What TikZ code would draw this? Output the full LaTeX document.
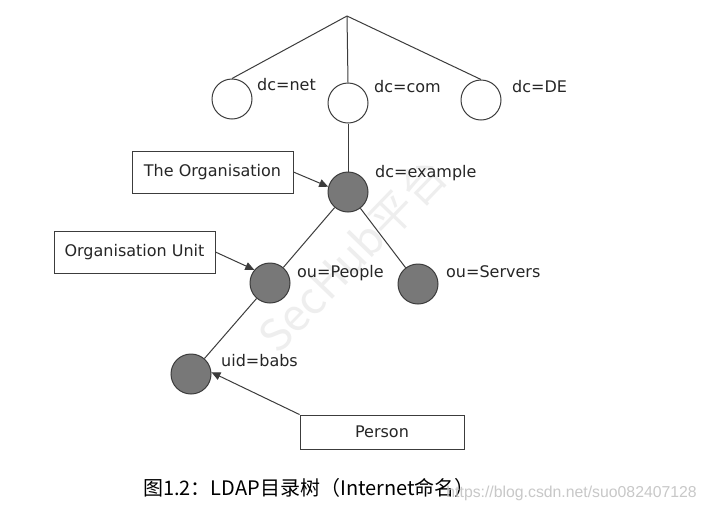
\documentclass[tikz,border=0pt]{standalone}
\usepackage{fontspec}
\setmainfont{DejaVu Sans}
\newfontfamily\cjkfont{Noto Sans CJK SC}
\newfontfamily\urlfont{Liberation Sans}
\usetikzlibrary{arrows.meta}
\definecolor{nodefill}{RGB}{120,120,120}
\definecolor{edgecol}{RGB}{60,60,60}
\definecolor{urlgray}{RGB}{200,200,200}
\definecolor{wmgray}{RGB}{238,238,238}
\begin{document}
\begin{tikzpicture}[x=1pt,y=-1pt,
  emptycirc/.style={circle, draw=edgecol, line width=1pt, fill=white, minimum size=40pt, inner sep=0pt},
  filledcirc/.style={circle, draw=edgecol, line width=1pt, fill=nodefill, minimum size=40pt, inner sep=0pt},
  lbl/.style={anchor=base west, inner sep=0pt, text=black!85, font=\fontsize{16}{19}\selectfont},
  boxnode/.style={draw=edgecol, line width=0.9pt, fill=white, inner sep=0pt, text=black!85, font=\fontsize{16}{19}\selectfont},
  edge/.style={draw=edgecol, line width=1pt},
  arr/.style={draw=edgecol, line width=1pt, -{Triangle[length=9pt,width=8pt]}}
]
\fill[white] (0,0) rectangle (707,515);
\useasboundingbox (0,0) rectangle (707,515);

% watermark
\node[rotate=46, text=wmgray, font=\cjkfont\fontsize{44}{48}\selectfont] (wm2) at (352,255) {SecHub平台};

\coordinate (root) at (347,16);
\node[emptycirc] (net) at (232,99) {};
\node[emptycirc] (com) at (348,103) {};
\node[emptycirc] (de) at (481,100) {};
\node[filledcirc] (ex) at (348,192) {};
\node[filledcirc] (people) at (270,283) {};
\node[filledcirc] (servers) at (418,284) {};
\node[filledcirc] (uid) at (191,374) {};

\draw[edge] (root) -- (net.north);
\draw[edge] (root) -- (com.north);
\draw[edge] (root) -- (de.north);
\draw[edge] (com) -- (ex);
\draw[edge] (ex) -- (people);
\draw[edge] (ex) -- (servers);
\draw[edge] (people) -- (uid);

\node[lbl] (lnet) at (257,90) {dc=net};
\node[lbl] (lcom) at (374,92) {dc=com};
\node[lbl] (lde) at (512,92) {dc=DE};
\node[lbl] (lex) at (375,177) {dc=example};
\node[lbl] (lpeople) at (297,277) {ou=People};
\node[lbl] (lservers) at (446,277) {ou=Servers};
\node[lbl] (luid) at (221,366) {uid=babs};

\node[boxnode, minimum width=161pt, minimum height=42pt] (org) at (212.5,172) {The Organisation};
\node[boxnode, minimum width=161pt, minimum height=42pt] (ou) at (134.5,252) {Organisation Unit};
\node[boxnode, minimum width=164pt, minimum height=34pt] (person) at (382,432) {Person};

\draw[arr] (org.east) -- (ex.165);
\draw[arr] (ou.east) -- (people.140);
\draw[arr] (person.north west) -- (uid.5);

\node[anchor=base west, inner sep=0pt, font=\cjkfont\fontsize{20}{22}\selectfont] (cap) at (143,495) {图1.2：LDAP目录树（Internet命名）};
\node[anchor=base east, inner sep=0pt, text=urlgray, font=\urlfont\fontsize{15.8}{18}\selectfont] (wm1) at (697,497) {https://blog.csdn.net/suo082407128};
\end{tikzpicture}
\end{document}
